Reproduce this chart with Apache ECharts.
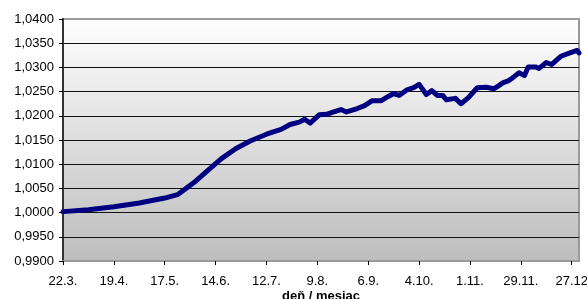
<!DOCTYPE html>
<html lang="sk">

<head>
    <meta charset="utf-8" />
    <title>Graf</title>
    <style>
        html, body {
            margin: 0;
            padding: 0;
            background: #fff;
        }
        #main {
            width: 587px;
            height: 299px;
        }
    </style>
</head>

<body>
    <div id="main"></div>
    <script src="https://cdn.jsdelivr.net/npm/echarts@6/dist/echarts.min.js"></script>
    <script>
    // dni od 22.3. a hodnoty krivky
    var days = [0, 14, 28, 42, 56, 63, 73, 87, 95, 103, 112, 120, 125, 130, 133, 136, 141, 145, 149, 153,
        156, 162, 166, 170, 175, 179, 182, 185, 189, 193, 196, 200, 203, 206, 209, 211, 216, 219, 223, 228,
        233, 237, 239, 242, 245, 247, 249, 251, 254, 256, 260, 262, 266, 269, 271, 274, 279, 283, 284];
    var values = [1.0002, 1.0006, 1.0012, 1.0020, 1.0030, 1.0037, 1.0065, 1.0111, 1.0132, 1.0148, 1.0162, 1.0172, 1.0182, 1.0187, 1.0193, 1.0185, 1.0202, 1.0203, 1.0208, 1.0213,
        1.0208, 1.0215, 1.0221, 1.0231, 1.0231, 1.0240, 1.0246, 1.0242, 1.0253, 1.0258, 1.0265, 1.0244, 1.0252, 1.0242, 1.0242, 1.0233, 1.0236, 1.0225, 1.0237, 1.0258,
        1.0259, 1.0256, 1.0260, 1.0268, 1.0272, 1.0277, 1.0283, 1.0289, 1.0283, 1.0301, 1.0301, 1.0298, 1.0310, 1.0306, 1.0313, 1.0323, 1.0330, 1.0335, 1.0330];
    var xLabels = ["22.3.", "19.4.", "17.5.", "14.6.", "12.7.", "9.8.", "6.9.", "4.10.", "1.11.", "29.11.", "27.12"];
    var xStep = 28;
    var yMin = 0.99;
    var yMax = 1.04;
    var yStep = 0.005;

    var font = "'Liberation Sans', Arial, sans-serif";
    var seriesData = days.map(function(d, i) {
        return [d, values[i]];
    });

    var myChart = echarts.init(document.getElementById("main"));
    var option = {
        animation: false,
        grid: {
            left: 63,
            right: 8,
            top: 19,
            bottom: 38,
            outerBoundsMode: "none",
            show: true,
            borderColor: "#9a9a9a",
            borderWidth: 2,
            backgroundColor: new echarts.graphic.LinearGradient(0, 0, 0, 1, [
                { offset: 0, color: "#ffffff" },
                { offset: 1, color: "#bdbdbd" }
            ])
        },
        xAxis: {
            type: "value",
            min: 0,
            max: 284,
            interval: xStep,
            name: "deň / mesiac",
            nameLocation: "middle",
            nameGap: 29,
            nameMoveOverlap: false,
            nameTextStyle: {
                fontFamily: font,
                fontSize: 13,
                fontWeight: "bold",
                color: "#000"
            },
            axisLine: {
                show: true,
                lineStyle: { color: "#9a9a9a", width: 2 }
            },
            axisTick: {
                show: true,
                length: 4,
                lineStyle: { color: "#000" }
            },
            axisLabel: {
                margin: 14,
                fontFamily: font,
                fontSize: 13,
                color: "#000",
                showMaxLabel: false,
                formatter: function(v) {
                    if (v % xStep !== 0) return "";
                    return xLabels[v / xStep] || "";
                }
            },
            splitLine: { show: false }
        },
        yAxis: {
            type: "value",
            min: yMin,
            max: yMax,
            interval: yStep,
            axisLine: {
                show: true,
                lineStyle: { color: "#333", width: 2 }
            },
            axisTick: {
                show: true,
                length: 4,
                lineStyle: { color: "#000" }
            },
            axisLabel: {
                margin: 9,
                fontFamily: font,
                fontSize: 13,
                color: "#000",
                formatter: function(v) {
                    return v.toFixed(4).replace(".", ",");
                }
            },
            splitLine: {
                show: true,
                showMinLine: false,
                showMaxLine: false,
                lineStyle: { color: "#111", width: 1 }
            }
        },
        series: [{
            type: "line",
            data: seriesData,
            showSymbol: false,
            symbol: "none",
            lineStyle: {
                color: "#000080",
                width: 5,
                join: "round",
                cap: "round"
            }
        }]
    };
    myChart.setOption(option);
    </script>
</body>

</html>
